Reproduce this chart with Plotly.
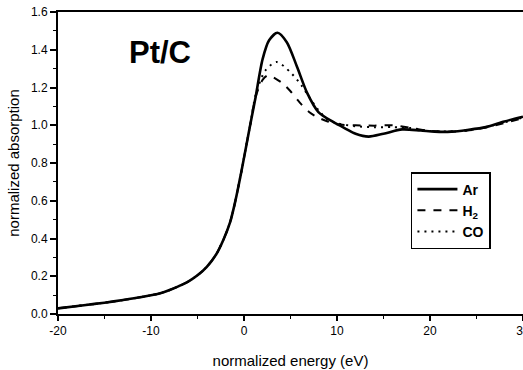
import plotly.graph_objects as go

# Ar (solid)
ar_e = [-20, -17, -15, -13, -11, -9, -8, -7, -6, -5, -4, -3, -2.2, -1.5, -0.9, -0.3, 0.2, 0.7,
        1.25, 2.0, 2.7, 3.6, 4.6, 5.7, 6.8, 8.0, 9.5, 11, 12, 13.4, 15, 17, 19, 20.5, 22.3, 24, 26, 28, 30]
ar_y = [0.03, 0.048, 0.06, 0.074, 0.09, 0.11, 0.127, 0.148, 0.172, 0.205, 0.25, 0.315, 0.395, 0.485, 0.605, 0.75, 0.88, 1.01,
        1.15, 1.35, 1.45, 1.49, 1.44, 1.31, 1.17, 1.07, 1.02, 0.98, 0.955, 0.94, 0.955, 0.978, 0.972, 0.966, 0.966,
        0.975, 0.99, 1.02, 1.045]

# H2 (dashed)
h2_e = [-20, -17, -15, -13, -11, -9, -8, -7, -6, -5, -4, -3, -2.2, -1.5, -0.9, -0.3, 0.2, 0.7,
        1.25, 2.0, 2.6, 3.3, 4.2, 5.0, 6.0, 7.0, 8.0, 9.0, 10, 12, 14, 16, 18, 20, 22, 24, 26, 28, 30]
h2_y = [0.03, 0.048, 0.06, 0.074, 0.09, 0.11, 0.127, 0.148, 0.172, 0.205, 0.25, 0.315, 0.395, 0.485, 0.605, 0.75, 0.88, 1.01,
        1.15, 1.24, 1.265, 1.25, 1.22, 1.18, 1.12, 1.07, 1.04, 1.02, 1.005, 1.0, 0.998, 1.0, 0.985, 0.97, 0.966,
        0.972, 0.988, 1.012, 1.038]

# CO (dotted)
co_e = [-20, -17, -15, -13, -11, -9, -8, -7, -6, -5, -4, -3, -2.2, -1.5, -0.9, -0.3, 0.2, 0.7,
        1.25, 2.3, 3.5, 5.0, 6.2, 7.0, 8.0, 9.0, 10, 12, 14, 16, 18, 20, 22, 24, 26, 28, 30]
co_y = [0.03, 0.048, 0.06, 0.074, 0.09, 0.11, 0.127, 0.148, 0.172, 0.205, 0.25, 0.315, 0.395, 0.485, 0.605, 0.75, 0.88, 1.01,
        1.16, 1.29, 1.335, 1.28, 1.21, 1.15, 1.08, 1.03, 1.01, 0.995, 0.99, 0.99, 0.985, 0.97, 0.967,
        0.973, 0.99, 1.015, 1.04]

x_ticks = [-20, -10, 0, 10, 20, 30]
y_ticks = [0.0, 0.2, 0.4, 0.6, 0.8, 1.0, 1.2, 1.4, 1.6]

FONT = "Arial, Liberation Sans, sans-serif"

fig = go.Figure()
fig.add_trace(go.Scatter(x=ar_e, y=ar_y, mode="lines", name="<b>Ar</b>",
                         line=dict(color="black", width=2.6, shape="spline", smoothing=0.8)))
fig.add_trace(go.Scatter(x=h2_e, y=h2_y, mode="lines", name="<b>H<sub>2</sub></b>",
                         line=dict(color="black", width=2, dash="8px,8px", shape="spline", smoothing=0.8)))
fig.add_trace(go.Scatter(x=co_e, y=co_y, mode="lines", name="<b>CO</b>",
                         line=dict(color="black", width=2, dash="2px,5px", shape="spline", smoothing=0.8)))

fig.add_annotation(text="<b>Pt/C</b>", xref="paper", yref="paper", x=0.22, y=0.865,
                   xanchor="center", yanchor="middle",
                   showarrow=False, font=dict(family=FONT, size=31, color="black"))

fig.update_layout(
    width=523, height=370,
    margin=dict(l=58, r=0, t=12, b=56, autoexpand=False),
    paper_bgcolor="white", plot_bgcolor="white",
    font=dict(family=FONT, color="black"),
    showlegend=True,
    legend=dict(x=0.759, y=0.47, xanchor="left", yanchor="top",
                bordercolor="black", borderwidth=1.5, bgcolor="white",
                font=dict(family=FONT, size=14, color="black"), itemwidth=40,
                tracegroupgap=0),
    xaxis=dict(range=[-20, 30], tickvals=x_ticks, ticktext=[str(v) for v in x_ticks],
               showgrid=False, zeroline=False, showline=True, linecolor="black", linewidth=2,
               mirror=True, ticks="outside", ticklen=5, tickwidth=1.5, tickcolor="black",
               minor=dict(dtick=5, ticks="outside", ticklen=3, tickwidth=1.2, tickcolor="black"),
               tickfont=dict(family=FONT, size=12, color="black"), automargin=False,
               ticklabeloverflow="allow",
               title=dict(text="normalized energy (eV)", font=dict(family=FONT, size=15, color="black"), standoff=18)),
    yaxis=dict(range=[0, 1.6], tickvals=y_ticks, ticktext=[f"{v:.1f}" for v in y_ticks],
               showgrid=False, zeroline=False, showline=True, linecolor="black", linewidth=2,
               mirror=False, ticks="outside", ticklen=6, tickwidth=1.5, tickcolor="black",
               minor=dict(dtick=0.1, ticks="outside", ticklen=3, tickwidth=1.2, tickcolor="black"),
               tickfont=dict(family=FONT, size=12, color="black"), automargin=False,
               title=dict(text="normalized absorption", font=dict(family=FONT, size=15, color="black"), standoff=8)),
)

fig.write_html("out.html", config={"displayModeBar": False},
               post_script="document.body.style.margin='0';document.body.style.overflow='hidden';")
